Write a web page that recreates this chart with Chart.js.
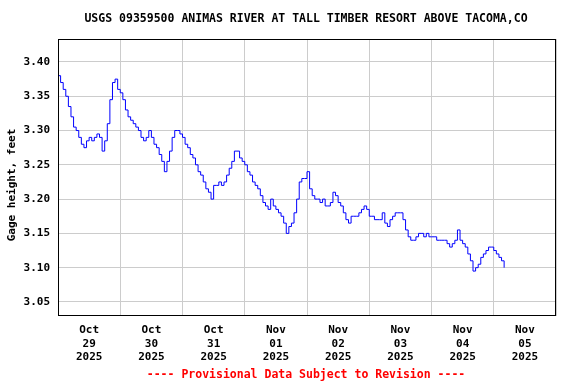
<!DOCTYPE html>
<html>
<head>
<meta charset="utf-8">
<script src="https://cdn.jsdelivr.net/npm/chart.js@4/dist/chart.umd.min.js"></script>
<style>
  html, body { margin: 0; padding: 0; background: #fff; }
  #wrap { width: 576px; height: 384px; }
</style>
</head>
<body>
<div id="wrap"><canvas id="gageChart" width="576" height="384"></canvas></div>
<script>
// hours since Oct 29 2025 00:00
const hours = [];
for (let h = 0; h <= 172; h++) hours.push(h);

// gage height, feet (hourly)
const gageHeight = [
  3.38, 3.37, 3.36, 3.35, 3.335, 3.32, 3.305, 3.30, 3.29, 3.28,
  3.275, 3.285, 3.29, 3.285, 3.29, 3.295, 3.29, 3.27, 3.285, 3.31,
  3.345, 3.37, 3.375, 3.36, 3.355, 3.345, 3.33, 3.32, 3.315, 3.31,
  3.305, 3.30, 3.29, 3.285, 3.29, 3.30, 3.29, 3.28, 3.275, 3.265,
  3.255, 3.24, 3.255, 3.27, 3.29, 3.30, 3.30, 3.295, 3.29, 3.28,
  3.275, 3.265, 3.26, 3.25, 3.24, 3.235, 3.225, 3.215, 3.21, 3.20,
  3.22, 3.22, 3.225, 3.22, 3.225, 3.235, 3.245, 3.255, 3.27, 3.27,
  3.26, 3.255, 3.25, 3.24, 3.235, 3.225, 3.22, 3.215, 3.205, 3.195,
  3.19, 3.185, 3.20, 3.19, 3.185, 3.18, 3.175, 3.165, 3.15, 3.16,
  3.165, 3.18, 3.20, 3.225, 3.23, 3.23, 3.24, 3.215, 3.205, 3.20,
  3.20, 3.195, 3.20, 3.19, 3.19, 3.195, 3.21, 3.205, 3.195, 3.19,
  3.18, 3.17, 3.165, 3.175, 3.175, 3.175, 3.18, 3.185, 3.19, 3.185,
  3.175, 3.175, 3.17, 3.17, 3.17, 3.18, 3.165, 3.16, 3.17, 3.175,
  3.18, 3.18, 3.18, 3.17, 3.155, 3.145, 3.14, 3.14, 3.145, 3.15,
  3.15, 3.145, 3.15, 3.145, 3.145, 3.145, 3.14, 3.14, 3.14, 3.14,
  3.135, 3.13, 3.135, 3.14, 3.155, 3.14, 3.135, 3.13, 3.12, 3.11,
  3.095, 3.10, 3.105, 3.115, 3.12, 3.125, 3.13, 3.13, 3.125, 3.12,
  3.115, 3.11, 3.10
];

const yTicks = [3.05, 3.10, 3.15, 3.20, 3.25, 3.30, 3.35, 3.40];
const dayLabels = [
  ["Oct", "29", "2025"], ["Oct", "30", "2025"], ["Oct", "31", "2025"],
  ["Nov", "01", "2025"], ["Nov", "02", "2025"], ["Nov", "03", "2025"],
  ["Nov", "04", "2025"], ["Nov", "05", "2025"]
];

const FONT = "'DejaVu Sans Mono', monospace";

// title, footer, y axis title and the black frame
const frameText = {
  id: "frameText",
  afterDraw(chart) {
    const { ctx, chartArea } = chart;
    ctx.save();
    ctx.strokeStyle = "#000";
    ctx.lineWidth = 1;
    ctx.strokeRect(chartArea.left + 0.5, chartArea.top + 0.5,
      chartArea.right - chartArea.left - 1, chartArea.bottom - chartArea.top - 1);
    ctx.textAlign = "center";
    ctx.textBaseline = "middle";
    ctx.fillStyle = "#000";
    ctx.font = "bold 11.5px " + FONT;
    ctx.fillText("USGS 09359500 ANIMAS RIVER AT TALL TIMBER RESORT ABOVE TACOMA,CO", 306, 19);
    ctx.save();
    ctx.translate(12, 185);
    ctx.rotate(-Math.PI / 2);
    ctx.font = "bold 11px " + FONT;
    ctx.fillText("Gage height, feet", 0, 0);
    ctx.restore();
    ctx.fillStyle = "#ff0000";
    ctx.font = "bold 11.5px " + FONT;
    ctx.fillText("---- Provisional Data Subject to Revision ----", 306, 375);
    ctx.restore();
  }
};

const ctx = document.getElementById("gageChart").getContext("2d");
new Chart(ctx, {
  type: "line",
  data: {
    datasets: [
      {
        data: hours.map((h, i) => ({ x: h, y: gageHeight[i] })),
        borderColor: "#0000ff",
        borderWidth: 1,
        pointRadius: 0,
        stepped: true,
        fill: false,
      },
    ],
  },
  plugins: [frameText],
  options: {
    responsive: false,
    animation: false,
    layout: { padding: { left: 0, right: 20, top: 39, bottom: 0 } },
    plugins: {
      legend: { display: false },
      tooltip: { enabled: false },
    },
    scales: {
      x: {
        type: "linear",
        min: 0,
        max: 192,
        afterBuildTicks: (scale) => {
          const t = [];
          for (let v = 0; v <= 192; v += 12) t.push({ value: v });
          scale.ticks = t;
        },
        afterFit: (scale) => { scale.height = 68; },
        grid: {
          color: (c) => (c.tick && c.tick.value % 24 === 0 ? "#cccccc" : "rgba(0,0,0,0)"),
          tickLength: 0,
          drawTicks: false,
        },
        border: { display: false },
        ticks: {
          autoSkip: false,
          maxRotation: 0,
          padding: 8,
          color: "#000",
          font: { family: FONT, size: 11, weight: "bold", lineHeight: 1.2 },
          callback: (v) => (v % 24 === 12 ? dayLabels[(v - 12) / 24] : ""),
        },
      },
      y: {
        min: 3.0295,
        max: 3.4335,
        afterBuildTicks: (scale) => {
          scale.ticks = yTicks.map((v) => ({ value: v }));
        },
        afterFit: (scale) => { scale.width = 58; },
        grid: { color: "#cccccc", tickLength: 0, drawTicks: false },
        border: { display: false },
        ticks: {
          padding: 8,
          color: "#000",
          font: { family: FONT, size: 11, weight: "bold" },
          callback: (v) => v.toFixed(2),
        },
      },
    },
  },
});
</script>
</body>
</html>
